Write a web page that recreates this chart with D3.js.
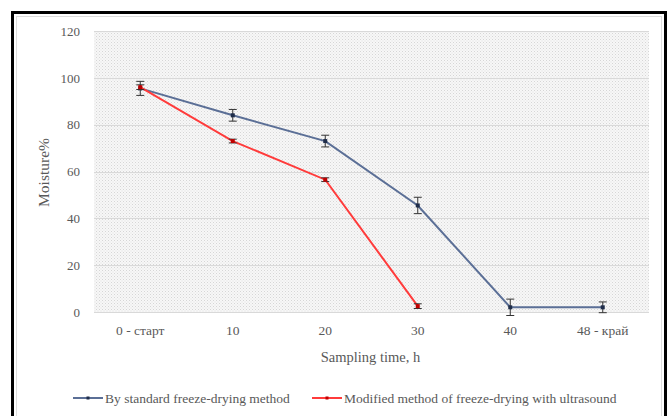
<!DOCTYPE html>
<html><head><meta charset="utf-8">
<script src="https://cdn.jsdelivr.net/npm/d3@7"></script>
<style>body{margin:0;background:#fff;} svg{display:block;}</style>
</head><body>
<svg id="c" width="671" height="416"></svg>
<script>
const categories = ["0 - старт", "10", "20", "30", "40", "48 - край"];
const standardValues = [95.5, 84, 73, 45.5, 2, 2];
const standardErrors = [3, 2.5, 2.5, 3.5, 3.5, 2.3];
const ultrasoundValues = [96, 73, 56.5, 2.5];
const ultrasoundErrors = [1, 0.8, 0.8, 1];
const yTicks = [0, 20, 40, 60, 80, 100, 120];
const seriesNames = ["By standard freeze-drying method", "Modified method of freeze-drying with ultrasound"];

(function () {
const svg = d3.select("#c");
const font = "Liberation Serif, DejaVu Serif, serif";
const blue = "#5b6f96", red = "#ff3b3b";

// frame
svg.append("rect").attr("x", 12.5).attr("y", 12.5).attr("width", 653).attr("height", 420)
  .attr("fill", "none").attr("stroke", "#000").attr("stroke-width", 3);
svg.append("rect").attr("x", 16.5).attr("y", 16.5).attr("width", 645).attr("height", 420)
  .attr("fill", "none").attr("stroke", "#ddd").attr("stroke-width", 1);

const pLeft = 94, pRight = 649, pTop = 31, pBottom = 312;
const x = d3.scaleBand().domain(categories).range([pLeft, pRight]);
const y = d3.scaleLinear().domain([0, 120]).range([pBottom, pTop]);

// dotted background
const defs = svg.append("defs");
const pat = defs.append("pattern").attr("id", "dots").attr("width", 3).attr("height", 3)
  .attr("patternUnits", "userSpaceOnUse");
pat.append("rect").attr("width", 3).attr("height", 3).attr("fill", "#f7f7f7");
pat.append("rect").attr("width", 1).attr("height", 1).attr("fill", "#d6d6d6");
pat.append("rect").attr("x", 1.5).attr("y", 1.5).attr("width", 1).attr("height", 1).attr("fill", "#e2e2e2");
svg.append("rect").attr("x", pLeft).attr("y", pTop).attr("width", pRight - pLeft).attr("height", pBottom - pTop)
  .attr("fill", "url(#dots)");

// gridlines
svg.append("g").selectAll("line").data(yTicks).join("line")
  .attr("x1", pLeft).attr("x2", pRight)
  .attr("y1", d => Math.round(y(d)) + 0.5).attr("y2", d => Math.round(y(d)) + 0.5)
  .attr("stroke", "#d9d9d9").attr("stroke-width", 1);

// y axis
const yAxis = svg.append("g").attr("transform", `translate(${pLeft},0)`)
  .call(d3.axisLeft(y).tickValues(yTicks).tickSize(0).tickPadding(14));
yAxis.select(".domain").remove();
yAxis.selectAll("text").attr("font-family", font).attr("font-size", 13).attr("fill", "#595959");

// x axis
const xAxis = svg.append("g").attr("transform", `translate(0,${pBottom})`)
  .call(d3.axisBottom(x).tickSize(0).tickPadding(13));
xAxis.select(".domain").remove();
xAxis.selectAll("text").attr("font-family", font).attr("font-size", 13.5).attr("fill", "#595959");

// axis titles
svg.append("text").attr("transform", `translate(49,${(pTop + pBottom) / 2 + 1}) rotate(-90)`)
  .attr("text-anchor", "middle").attr("font-family", font).attr("font-size", 15.5).attr("fill", "#595959")
  .text("Moisture%");
svg.append("text").attr("x", (pLeft + pRight) / 2 - 1).attr("y", 362)
  .attr("text-anchor", "middle").attr("font-family", font).attr("font-size", 14.5).attr("fill", "#595959")
  .text("Sampling time, h");

function drawSeries(vals, errs, color, markerColor) {
  const pts = vals.map((v, i) => ({ cx: x(categories[i]) + x.bandwidth() / 2, v, e: errs[i] }));
  const g = svg.append("g");
  g.append("path").datum(pts)
    .attr("d", d3.line().x(d => d.cx).y(d => y(d.v)))
    .attr("fill", "none").attr("stroke", color).attr("stroke-width", 2);
  const eb = g.selectAll(".eb").data(pts).join("g");
  eb.append("line").attr("x1", d => d.cx).attr("x2", d => d.cx)
    .attr("y1", d => y(d.v - d.e)).attr("y2", d => y(d.v + d.e)).attr("stroke", "#333").attr("stroke-width", 1);
  eb.append("line").attr("x1", d => d.cx - 4).attr("x2", d => d.cx + 4)
    .attr("y1", d => y(d.v + d.e)).attr("y2", d => y(d.v + d.e)).attr("stroke", "#333").attr("stroke-width", 1);
  eb.append("line").attr("x1", d => d.cx - 4).attr("x2", d => d.cx + 4)
    .attr("y1", d => y(d.v - d.e)).attr("y2", d => y(d.v - d.e)).attr("stroke", "#333").attr("stroke-width", 1);
  g.selectAll(".mk").data(pts).join("rect")
    .attr("x", d => d.cx - 2).attr("y", d => y(d.v) - 2).attr("width", 4).attr("height", 4)
    .attr("fill", markerColor);
}
drawSeries(standardValues, standardErrors, blue, "#1f2d4a");
drawSeries(ultrasoundValues, ultrasoundErrors, red, "#c00000");

// legend
const legend = [
  { name: seriesNames[0], color: blue, mk: "#1f2d4a", x: 73 },
  { name: seriesNames[1], color: red, mk: "#c00000", x: 312 }
];
const lg = svg.append("g").selectAll("g").data(legend).join("g")
  .attr("transform", d => `translate(${d.x},398)`);
lg.append("line").attr("x1", 0).attr("x2", 30).attr("y1", 0).attr("y2", 0)
  .attr("stroke", d => d.color).attr("stroke-width", 2);
lg.append("rect").attr("x", 13.5).attr("y", -1.5).attr("width", 3).attr("height", 3).attr("fill", d => d.mk);
lg.append("text").attr("x", 32).attr("y", 4.5).attr("font-family", font).attr("font-size", 13.5)
  .attr("fill", "#595959").text(d => d.name);
})();
</script>
</body></html>
